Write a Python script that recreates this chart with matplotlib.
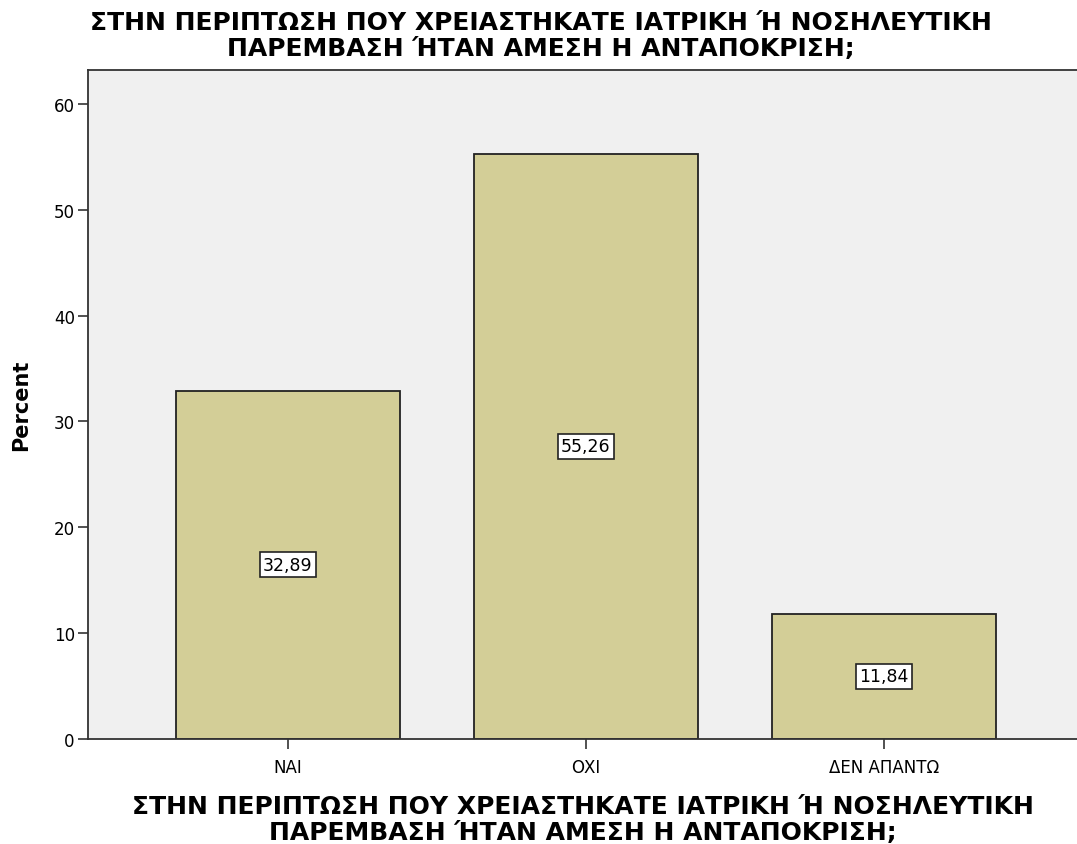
import matplotlib.pyplot as plt

plt.rcParams['font.family'] = ['DejaVu Sans']

# Δεδομένα
categories = ["ΝΑΙ", "ΟΧΙ", "ΔΕΝ ΑΠΑΝΤΩ"]
percents = [32.89, 55.26, 11.84]
title = "ΣΤΗΝ ΠΕΡΙΠΤΩΣΗ ΠΟΥ ΧΡΕΙΑΣΤΗΚΑΤΕ ΙΑΤΡΙΚΗ Ή ΝΟΣΗΛΕΥΤΙΚΗ\nΠΑΡΕΜΒΑΣΗ ΉΤΑΝ ΑΜΕΣΗ Η ΑΝΤΑΠΟΚΡΙΣΗ;"

fig = plt.figure(figsize=(10.77, 8.45), dpi=100)
ax = fig.add_axes([0.0817, 0.1243, 0.9183, 0.7917])
ax.set_facecolor("#F0F0F0")

x = range(len(categories))
ax.bar(x, percents, width=0.752, color="#D3CE97", edgecolor="#222222", linewidth=1.3, zorder=2)

# ετικέτες τιμών στο μέσο κάθε στήλης
for xi, v in zip(x, percents):
    ax.text(xi, v / 2, f"{v:.2f}".replace(".", ","), ha="center", va="center", fontsize=12.5,
            bbox=dict(boxstyle="square,pad=0.2", facecolor="white", edgecolor="#222222", linewidth=1.2),
            zorder=3)

ax.set_xlim(-0.671, 2.648)
ax.set_ylim(0, 63.2)
ax.set_yticks([0, 10, 20, 30, 40, 50, 60])
ax.set_xticks(list(x))
ax.set_xticklabels(categories)
ax.tick_params(axis="both", direction="out", length=7.5, width=1.2, colors="#333333", labelsize=12, labelcolor="black", pad=2)
ax.tick_params(axis="x", pad=6)

for side in ["left", "bottom", "top"]:
    ax.spines[side].set_color("#333333")
    ax.spines[side].set_linewidth(1.3)
ax.spines["right"].set_visible(False)

ax.set_ylabel("Percent", fontsize=15, fontweight="bold", labelpad=16)
ax.set_xlabel(title, fontsize=18, fontweight="bold", labelpad=13, linespacing=1.1)
fig.text(0.502, 0.987, title, ha="center", va="top", fontsize=18, fontweight="bold", linespacing=1.1)

plt.savefig("out.png", dpi=100)
plt.close()
